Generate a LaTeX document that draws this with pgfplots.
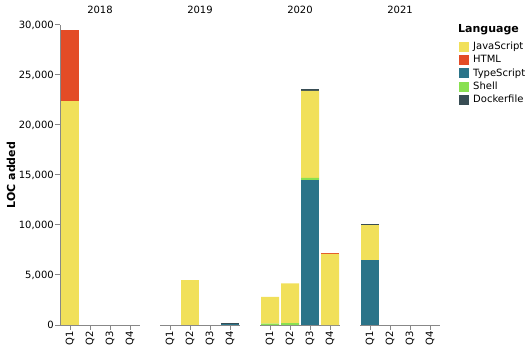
\documentclass[border=0pt]{standalone}
\usepackage{fontspec}
\setmainfont{DejaVu Sans}
\usepackage{pgfplots}
\pgfplotsset{compat=1.18}
\definecolor{js}{HTML}{F1E05A}
\definecolor{html}{HTML}{E34C26}
\definecolor{ts}{HTML}{2B7489}
\definecolor{shell}{HTML}{89E051}
\definecolor{docker}{HTML}{384D54}
\definecolor{axisgray}{HTML}{888888}
\pgfplotsset{
  facet/.style={
    width=80pt, height=300pt, scale only axis,
    ybar stacked, bar width=18pt,
    xmin=-0.5, xmax=3.5, ymin=0, ymax=30000,
    xtick={0,1,2,3}, xticklabels={Q1,Q2,Q3,Q4},
    x tick label style={rotate=90, anchor=east, inner sep=1pt, font=\fontsize{10}{12}\selectfont},
    y tick label style={inner sep=1pt, font=\fontsize{10}{12}\selectfont},
    ytick={0,5000,10000,15000,20000,25000,30000},
    scaled y ticks=false,
    /pgf/number format/.cd, fixed, 1000 sep={,}, assume math mode=true, /pgfplots/.cd,
    axis x line*=bottom,
    axis line style={draw=axisgray, line width=1pt},
    major tick length=5pt,
    tick style={draw=axisgray, line width=1pt},
    tick align=outside,
    every axis plot/.append style={draw=none},
  }
}
\begin{document}
\begin{tikzpicture}
\useasboundingbox (0,0) rectangle (530pt,351pt);
% 2018
\begin{axis}[facet, at={(60pt,26pt)}, anchor=south west, axis y line*=left]
\addplot[fill=ts] coordinates {(0,0) (1,0) (2,0) (3,0)};
\addplot[fill=shell] coordinates {(0,0) (1,0) (2,0) (3,0)};
\addplot[fill=js] coordinates {(0,22400) (1,0) (2,0) (3,0)};
\addplot[fill=html] coordinates {(0,7100) (1,0) (2,0) (3,0)};
\addplot[fill=docker] coordinates {(0,0) (1,0) (2,0) (3,0)};
\end{axis}
% 2019
\begin{axis}[facet, at={(160pt,26pt)}, anchor=south west, axis y line=none]
\addplot[fill=ts] coordinates {(0,0) (1,0) (2,0) (3,60)};
\addplot[fill=shell] coordinates {(0,0) (1,0) (2,0) (3,0)};
\addplot[fill=js] coordinates {(0,0) (1,4500) (2,0) (3,0)};
\addplot[fill=html] coordinates {(0,0) (1,0) (2,0) (3,0)};
\addplot[fill=docker] coordinates {(0,0) (1,0) (2,0) (3,110)};
\end{axis}
% 2020
\begin{axis}[facet, at={(260pt,26pt)}, anchor=south west, axis y line=none]
\addplot[fill=ts] coordinates {(0,0) (1,0) (2,14500) (3,0)};
\addplot[fill=shell] coordinates {(0,150) (1,200) (2,200) (3,0)};
\addplot[fill=js] coordinates {(0,2650) (1,3970) (2,8700) (3,7100)};
\addplot[fill=html] coordinates {(0,0) (1,0) (2,0) (3,120)};
\addplot[fill=docker] coordinates {(0,0) (1,0) (2,200) (3,0)};
\end{axis}
% 2021
\begin{axis}[facet, at={(360pt,26pt)}, anchor=south west, axis y line=none,
  legend style={draw=none, fill=none, at={(axis description cs:1.2375,0.945)}, anchor=north west,
    inner sep=0pt, row sep=3.3pt, font=\fontsize{10}{12}\selectfont,
    nodes={inner sep=0pt, anchor=west}},
  legend cell align=left,
  legend image code/.code={\fill[#1] (0pt,-5pt) rectangle (10pt,5pt); \path (14pt,0pt);}]
\addlegendimage{fill=js}\addlegendentry{JavaScript}
\addlegendimage{fill=html}\addlegendentry{HTML}
\addlegendimage{fill=ts}\addlegendentry{TypeScript}
\addlegendimage{fill=shell}\addlegendentry{Shell}
\addlegendimage{fill=docker}\addlegendentry{Dockerfile}
\addplot[fill=ts] coordinates {(0,6500) (1,0) (2,0) (3,0)};
\addplot[fill=shell] coordinates {(0,0) (1,0) (2,0) (3,0)};
\addplot[fill=js] coordinates {(0,3500) (1,0) (2,0) (3,0)};
\addplot[fill=html] coordinates {(0,0) (1,0) (2,0) (3,0)};
\addplot[fill=docker] coordinates {(0,100) (1,0) (2,0) (3,0)};
\end{axis}
\foreach \x/\yr in {100/2018,200/2019,300/2020,400/2021}
  \node[anchor=base, inner sep=0pt, font=\fontsize{10}{12}\selectfont] at (\x pt,337.7pt) {\yr};
\node[rotate=90, anchor=base, inner sep=0pt, font=\bfseries\fontsize{11}{13}\selectfont] at (15pt,176pt) {LOC added};
\node[anchor=base west, inner sep=0pt, font=\bfseries\fontsize{11}{13}\selectfont] at (458pt,318pt) {Language};
\end{tikzpicture}
\end{document}
